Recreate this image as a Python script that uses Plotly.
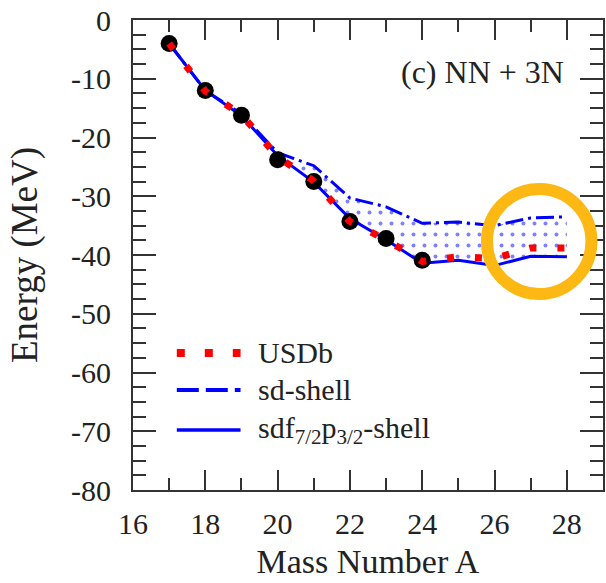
import plotly.graph_objects as go

# ---- data ----
mass_A = [17, 18, 19, 20, 21, 22, 23, 24, 25, 26, 27, 28]
usdb = [-4.0, -12.1, -16.1, -23.3, -27.4, -34.3, -37.4, -41.1, -40.3, -40.6, -38.8, -38.8]
sd_shell = [-4.0, -12.0, -16.0, -22.6, -24.8, -30.3, -31.8, -34.6, -34.4, -35.0, -33.7, -33.5]
sdf_shell = [-4.0, -12.0, -16.3, -23.1, -27.6, -33.8, -37.4, -41.4, -40.9, -41.8, -40.2, -40.3]
exp_A = [17, 18, 19, 20, 21, 22, 23, 24]
exp_E = [-4.0, -12.0, -16.2, -23.8, -27.5, -34.3, -37.2, -40.9]

x_tick_vals = [16, 18, 20, 22, 24, 26, 28]
x_tick_text = ["16", "18", "20", "22", "24", "26", "28"]
y_tick_vals = [0, -10, -20, -30, -40, -50, -60, -70, -80]
y_tick_text = ["0", "-10", "-20", "-30", "-40", "-50", "-60", "-70", "-80"]

legend_labels = ["USDb", "sd-shell", "sdf<sub>7/2</sub>p<sub>3/2</sub>-shell"]

FONT = "Liberation Serif"
BLUE = "#0000FF"
RED = "#FF0000"
AX = "#333333"

fig = go.Figure()

# lower band edge (solid)
fig.add_trace(go.Scatter(
    x=mass_A, y=sdf_shell, mode="lines",
    line=dict(color=BLUE, width=3), showlegend=False, name="sdf-shell"))
# upper band edge (dash) with dotted fill down to solid
fig.add_trace(go.Scatter(
    x=mass_A, y=sd_shell, mode="lines", fill="tonexty",
    fillcolor="rgba(0,0,0,0)",
    fillpattern=dict(shape=".", fgcolor=BLUE, bgcolor="rgba(0,0,0,0)", size=11, solidity=0.1),
    line=dict(color=BLUE, width=3, dash="18px,5px,3px,5px"), showlegend=False, name="sd-shell"))
# experiment
fig.add_trace(go.Scatter(
    x=exp_A, y=exp_E, mode="markers",
    marker=dict(color="black", size=17), showlegend=False, name="Exp"))
# USDb
fig.add_trace(go.Scatter(
    x=mass_A, y=usdb, mode="lines",
    line=dict(color=RED, width=7, dash="7px,21px"), showlegend=False, name="USDb"))

axis_common = dict(
    showline=True, linecolor=AX, linewidth=2, mirror="allticks",
    ticks="inside", tickcolor=AX, tickwidth=2,
    showgrid=False, zeroline=False,
    tickfont=dict(family=FONT, size=30, color="#222222"),
)

fig.update_xaxes(
    range=[16, 29], tickvals=x_tick_vals, ticktext=x_tick_text, ticklen=20,
    minor=dict(dtick=1, tick0=16, ticklen=12, ticks="inside", tickcolor=AX, tickwidth=2),
    ticklabelstandoff=6,
    title=dict(text="Mass Number A", font=dict(family=FONT, size=34, color="#222222"), standoff=10),
    **axis_common)
fig.update_yaxes(
    range=[-80, 0], tickvals=y_tick_vals, ticktext=y_tick_text, ticklen=23,
    minor=dict(dtick=2.5, tick0=0, ticklen=13, ticks="inside", tickcolor=AX, tickwidth=2),
    ticklabelstandoff=14,
    title=dict(text="Energy (MeV)", font=dict(family=FONT, size=37, color="#222222"), standoff=22),
    **axis_common)

# panel label
fig.add_annotation(text="(c) NN + 3N", xref="paper", yref="paper", x=0.9216, y=0.889,
                   xanchor="right", yanchor="middle", showarrow=False,
                   font=dict(family=FONT, size=32, color="#222222"))

# manual legend
leg_y = [0.2915, 0.2128, 0.1277]
leg_styles = [dict(color=RED, width=8, dash="8px,20px"),
              dict(color=BLUE, width=4, dash="22px,7px"),
              dict(color=BLUE, width=3.5)]
for yy, st, lab in zip(leg_y, leg_styles, legend_labels):
    fig.add_shape(type="line", xref="paper", yref="paper", x0=0.0932, x1=0.2288, y0=yy, y1=yy,
                  line=st)
    fig.add_annotation(text=lab, xref="paper", yref="paper", x=0.2627, y=yy,
                       xanchor="left", yanchor="middle", showarrow=False,
                       font=dict(family=FONT, size=30, color="#222222"))

# highlight ring
fig.add_shape(type="circle", xref="x", yref="y", x0=25.79, x1=28.68, y0=-46.64, y1=-28.76,
              line=dict(color="#FDB813", width=12), layer="above")

fig.update_layout(
    width=606, height=583,
    margin=dict(l=133, r=1, t=20, b=93),
    plot_bgcolor="white", paper_bgcolor="white",
)

fig.write_html("out.html")
